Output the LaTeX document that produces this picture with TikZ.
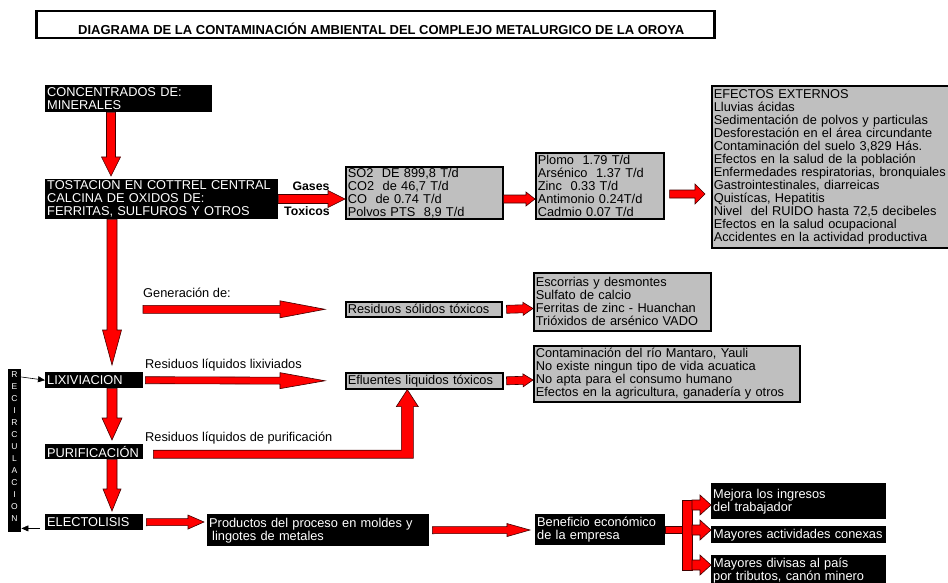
\documentclass[tikz,border=0pt]{standalone}
\usepackage{fontspec}
\setmainfont{Liberation Sans}
\usetikzlibrary{calc,arrows.meta}

\newcommand{\txtfont}{\fontsize{12.8}{13}\selectfont}
\newcommand{\ttlfont}{\fontsize{13}{14}\selectfont\bfseries}
\newcommand{\gasfont}{\fontsize{12.3}{13}\selectfont\bfseries}

\newcommand{\fatarrow}[5]{%
  \path[fatarr] let \p1=#1, \p2=#2,
    \n1={atan2(\y2-\y1,\x2-\x1)}, \n2={veclen(\x2-\x1,\y2-\y1)} in
    [shift={(\p1)}, rotate=\n1]
    (0pt,#3pt/2) -- (\n2-#5pt,#3pt/2) -- (\n2-#5pt,#4pt/2) -- (\n2-0pt,0pt)
    -- (\n2-#5pt,-#4pt/2) -- (\n2-#5pt,-#3pt/2) -- (0pt,-#3pt/2) -- cycle;}

\begin{document}
\begin{tikzpicture}[x=1pt, y=-1pt,
    blackbox/.style={fill=black, text=white, anchor=north west, align=left, inner xsep=2pt, inner ysep=0.5pt, font=\txtfont},
    graybox/.style={fill=gray!50, draw=black, line width=1.6pt, anchor=north west, align=left, inner xsep=2pt, inner ysep=0.5pt, font=\txtfont},
    fatarr/.style={fill=red, draw=black!75!red, line width=0.6pt},
    lbl/.style={anchor=west, font=\txtfont, inner sep=0pt},
    recarr/.style={-{Triangle[length=7pt,width=6pt]}, line width=0.6pt}]
  \path[use as bounding box, fill=white] (0,0) rectangle (948,583);

  \node[draw, line width=2.5pt, anchor=north west, minimum width=678pt, minimum height=27pt, inner sep=0pt] (title) at (35,10) {};
  \node[font=\ttlfont, inner sep=0pt] (ttl) at ([xshift=6pt,yshift=-4pt]title.center) {DIAGRAMA DE LA CONTAMINACIÓN AMBIENTAL DEL COMPLEJO METALURGICO DE LA OROYA};

  \node[blackbox, text width=163pt, minimum height=27pt] (conc) at (45,85) {CONCENTRADOS DE:\\MINERALES};
  \node[blackbox, text width=229pt, minimum height=40pt] (tost) at (45,179) {TOSTACION EN COTTREL CENTRAL\\CALCINA DE OXIDOS DE:\\FERRITAS, SULFUROS Y OTROS};
  \node[graybox, text width=153pt, minimum height=52pt] (gases) at (345,166) {SO2\ \ DE 899,8 T/d\\CO2\ \ de 46,7 T/d\\CO\ \ de 0.74 T/d\\Polvos PTS\ \ 8,9 T/d};
  \node[graybox, text width=124pt, minimum height=66pt] (metals) at (535,152) {Plomo\ \ 1.79 T/d\\Arsénico\ \ 1.37 T/d\\Zinc\ \ 0.33 T/d\\Antimonio 0.24T/d\\Cadmio 0.07 T/d};
  \node[graybox, text width=236pt, minimum height=162pt] (efectos) at (711,85) {EFECTOS EXTERNOS\\Lluvias ácidas\\Sedimentación de polvos y particulas\\Desforestación en el área circundante\\Contaminación del suelo 3,829 Hás.\\Efectos en la salud de la población\\Enfermedades respiratorias, bronquiales\\Gastrointestinales, diarreicas\\Quistícas, Hepatitis\\Nivel\ \ del RUIDO hasta 72,5 decibeles\\Efectos en la salud ocupacional\\Accidentes en la actividad productiva};

  \node[graybox, text width=152pt, minimum height=15pt] (solidos) at (345,301) {Residuos sólidos tóxicos};
  \node[graybox, text width=173pt, minimum height=58pt] (escorias) at (533,272) {Escorrias y desmontes\\Sulfato de calcio\\Ferritas de zinc - Huanchan\\Trióxidos de arsénico VADO};
  \node[blackbox, text width=94pt, minimum height=16pt] (lix) at (45,372) {LIXIVIACION};
  \node[graybox, text width=153pt, minimum height=16pt] (eflu) at (345,372) {Efluentes liquidos tóxicos};
  \node[graybox, text width=262pt, minimum height=56pt] (contam) at (533,345) {Contaminación del río Mantaro, Yauli\\No existe ningun tipo de vida acuatica\\No apta para el consumo humano\\Efectos en la agricultura, ganadería y otros};
  \node[blackbox, text width=94pt, minimum height=15pt] (purif) at (45,444) {PURIFICACIÓN};
  \node[blackbox, text width=94pt, minimum height=16pt] (elec) at (45,514) {ELECTOLISIS};
  \node[blackbox, text width=218pt, minimum height=32pt] (prod) at (207,514) {Productos del proceso en moldes y\\\hspace{3pt}lingotes de metales};
  \node[blackbox, text width=126pt, minimum height=31pt] (benef) at (535,514) {Beneficio económico\\de la empresa};
  \node[blackbox, text width=171pt, minimum height=36pt] (mejora) at (711,483) {Mejora los ingresos\\del trabajador};
  \node[blackbox, text width=171pt, minimum height=17pt] (conexas) at (711,526) {Mayores actividades conexas};
  \node[blackbox, text width=171pt, minimum height=30pt] (divisas) at (711,555) {Mayores divisas al país\\por tributos, canón minero};

  \node[fill=black, anchor=north west, minimum width=13pt, minimum height=163pt, inner sep=0pt] (recirc) at (8,369) {};
  \foreach \ch [count=\i] in {R,E,C,I,R,C,U,L,A,C,I,O,N}
    \node[text=white, font=\fontsize{8.5}{9}\selectfont, inner sep=0pt] (rc\i) at (14.5,363+12*\i) {\ch};

  \node[font=\gasfont, inner sep=0pt] (gas) at (311,186) {Gases};
  \node[font=\gasfont, inner sep=0pt] (tox) at (307,211) {Toxicos};
  \node[lbl] (gen) at (143,293) {Generación de:};
  \node[lbl] (rll) at (145,365) {Residuos líquidos lixiviados};
  \node[lbl] (rlp) at (145,438) {Residuos líquidos de purificación};
  \coordinate (g1) at (gen.west |- solidos.west);
  \coordinate (g2) at ([xshift=-20pt]solidos.west);

  \fatarrow{([xshift=66pt]conc.south west)}{([xshift=66pt,yshift=3pt]tost.north west)}{9}{19}{19}
  \fatarrow{([yshift=-20pt]tost.north east)}{([yshift=-33pt]gases.north west)}{9}{17}{17}
  \fatarrow{([yshift=-33pt]gases.north east)}{([yshift=-47pt]metals.north west)}{8}{14}{9}
  \fatarrow{([xshift=5pt,yshift=-42pt]metals.north east)}{([xshift=-6pt,yshift=-109pt]efectos.north west)}{8}{20}{10}
  \fatarrow{([xshift=67pt]tost.south west)}{([xshift=67pt,yshift=7pt]lix.north west)}{10}{19}{35}
  \fatarrow{(g1)}{(g2)}{8}{17}{45}
  \fatarrow{([xshift=4pt]solidos.east)}{([yshift=-36.5pt]escorias.north west)}{8}{13}{10}
  \fatarrow{([xshift=2pt]lix.east)}{([xshift=-20pt]eflu.west)}{7}{16}{45}
  \fatarrow{([xshift=3pt]eflu.east)}{([yshift=-35pt]contam.north west)}{8}{13}{10}
  \fatarrow{([xshift=67pt]lix.south west)}{([xshift=67pt,yshift=4pt]purif.north west)}{10}{20}{22}
  \fatarrow{([xshift=67pt]purif.south west)}{([xshift=67pt,yshift=3pt]elec.north west)}{10}{18}{22}
  \path[fatarr] let \p1=([xshift=10pt,yshift=-2.5pt]purif.east), \p2=([xshift=-17pt]eflu.south) in
    (\x1,\y1+4pt) -- (\x2-6pt,\y1+4pt) -- (\x2-6pt,\y2-17pt) -- (\x2-11pt,\y2-17pt) -- (\x2,\y2)
    -- (\x2+11pt,\y2-17pt) -- (\x2+6pt,\y2-17pt) -- (\x2+6pt,\y1-4pt) -- (\x1,\y1-4pt) -- cycle;
  \fatarrow{([xshift=3pt]elec.east)}{([xshift=-3pt,yshift=-8pt]prod.north west)}{7}{14}{16}
  \fatarrow{([xshift=3pt]prod.east)}{([xshift=-5pt,yshift=-16pt]benef.north west)}{7}{13}{23}

  \draw[fatarr] ([yshift=3.5pt]benef.east) rectangle ([xshift=17pt,yshift=-3.5pt]benef.east);
  \coordinate (bt) at (682,500);
  \coordinate (bb) at (692,570);
  \draw[fatarr] (bt) rectangle (bb);
  \coordinate (s1) at (692,505);
  \coordinate (s2) at (692,530);
  \coordinate (s3) at (692,565);
  \fatarrow{(s1)}{([yshift=-22pt]mejora.north west)}{10}{20}{11}
  \fatarrow{(s2)}{([yshift=-4pt]conexas.north west)}{10}{20}{11}
  \fatarrow{(s3)}{([yshift=-10pt]divisas.north west)}{10}{20}{11}

  \draw[recarr] ([yshift=-8pt]recirc.north east) -- (lix.west);
  \coordinate (e1) at ([xshift=-5pt,yshift=2pt]elec.south west);
  \draw[recarr] (e1) -- (e1 -| recirc.east);
\end{tikzpicture}
\end{document}
